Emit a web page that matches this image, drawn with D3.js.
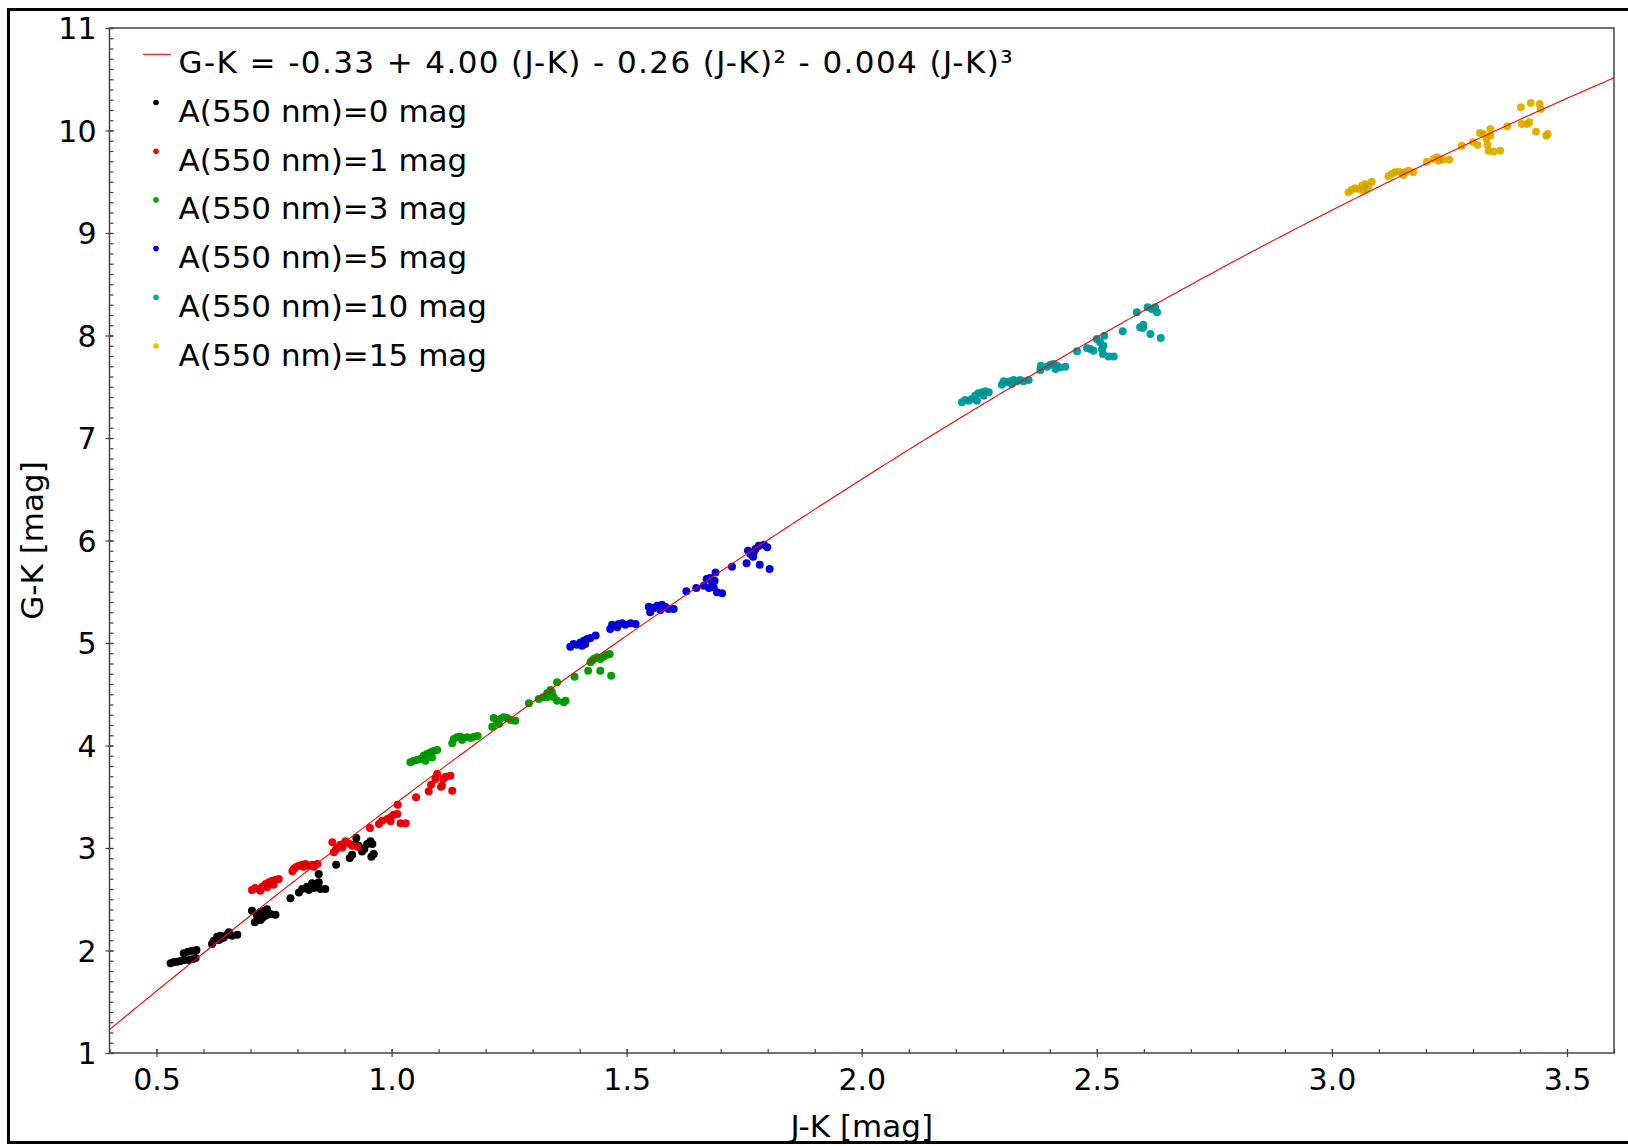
<!DOCTYPE html>
<html>
<head>
<meta charset="utf-8">
<script src="https://cdn.jsdelivr.net/npm/d3@7"></script>
<style>
  html, body { margin: 0; padding: 0; background: #fff; }
  svg { display: block; font-family: "DejaVu Sans", sans-serif; }
</style>
</head>
<body>
<svg id="chart" width="1628" height="1146"></svg>
<script>
// Colour-colour relation: G-K against J-K for several extinction levels
const fitCoefficients = [-0.33, 4.00, -0.26, -0.004];   // c0 + c1 x + c2 x^2 + c3 x^3
const fitLabel = "G-K = -0.33 + 4.00 (J-K) - 0.26 (J-K)\u00B2 - 0.004 (J-K)\u00B3";

const seriesNames = [
  "A(550 nm)=0 mag", "A(550 nm)=1 mag", "A(550 nm)=3 mag",
  "A(550 nm)=5 mag", "A(550 nm)=10 mag", "A(550 nm)=15 mag"
];
const seriesColors = ["#000000", "#ff0000", "#00aa00", "#0000ee", "#00aaaa", "#f0c000"];

const xTicks = [0.5, 1.0, 1.5, 2.0, 2.5, 3.0, 3.5];
const yTicks = [1, 2, 3, 4, 5, 6, 7, 8, 9, 10, 11];
const xDomain = [0.4, 3.6];
const yDomain = [1, 11];

// [J-K, G-K] pairs per extinction level
const ext0 = [
  [0.530,1.875],[0.537,1.888],[0.544,1.891],[0.551,1.897],[0.559,1.907],[0.569,1.907],[0.578,1.917],[0.583,1.927],
  [0.558,1.972],[0.567,1.989],[0.576,1.998],[0.585,2.005],
  [0.618,2.063],[0.622,2.096],[0.629,2.135],[0.633,2.102],[0.636,2.145],[0.640,2.122],[0.643,2.128],[0.650,2.154],
  [0.654,2.177],[0.661,2.145],[0.672,2.154],
  [0.703,2.389],[0.709,2.275],[0.714,2.340],[0.720,2.372],[0.721,2.298],[0.725,2.317],[0.730,2.389],[0.732,2.340],
  [0.735,2.402],[0.742,2.356],[0.753,2.350],
  [0.785,2.509],[0.803,2.567],[0.810,2.600],[0.820,2.623],[0.824,2.590],[0.831,2.655],[0.835,2.610],[0.838,2.642],
  [0.845,2.665],[0.845,2.746],[0.849,2.600],[0.859,2.600],
  [0.882,2.837],[0.911,2.902],[0.916,2.935],[0.923,3.039],[0.925,3.098],[0.930,3.023],[0.937,2.967],[0.942,2.990],
  [0.948,3.039],[0.955,3.065],[0.959,3.039],[0.957,2.915],[0.962,2.941]
];
const ext1 = [
  [0.703,2.590],[0.710,2.610],[0.718,2.600],[0.721,2.584],[0.725,2.623],[0.732,2.649],[0.735,2.616],[0.739,2.665],
  [0.746,2.681],[0.749,2.642],[0.753,2.688],[0.760,2.698],
  [0.789,2.772],[0.792,2.795],[0.796,2.811],[0.803,2.828],[0.810,2.837],[0.813,2.818],[0.817,2.844],[0.824,2.828],
  [0.831,2.837],[0.835,2.818],[0.842,2.844],
  [0.874,3.055],[0.877,2.958],[0.881,2.980],[0.884,3.006],[0.891,3.032],[0.895,3.006],[0.898,3.039],[0.902,3.065],
  [0.909,3.045],[0.916,3.023],[0.927,3.013],
  [0.954,3.195],[0.973,3.234],[0.980,3.267],[0.991,3.283],[0.998,3.299],[0.998,3.260],[1.005,3.325],[1.012,3.332],
  [1.013,3.423],[1.019,3.241],[1.030,3.241],
  [1.052,3.494],[1.079,3.553],[1.084,3.618],[1.093,3.673],[1.097,3.722],[1.105,3.598],[1.107,3.608],[1.110,3.673],
  [1.115,3.696],[1.125,3.706],[1.129,3.559]
];
const ext3 = [
  [1.040,3.836],[1.047,3.852],[1.054,3.859],[1.061,3.868],[1.068,3.901],[1.072,3.852],[1.075,3.917],[1.083,3.933],
  [1.086,3.884],[1.090,3.950],[1.097,3.956],
  [1.129,4.021],[1.132,4.063],[1.139,4.080],[1.146,4.086],[1.150,4.054],[1.153,4.073],[1.161,4.080],[1.168,4.073],
  [1.175,4.086],[1.183,4.093],
  [1.214,4.184],[1.217,4.268],[1.224,4.242],[1.228,4.210],[1.231,4.258],[1.238,4.275],[1.246,4.268],[1.253,4.249],
  [1.263,4.242],
  [1.292,4.411],[1.313,4.454],[1.322,4.470],[1.331,4.509],[1.331,4.470],[1.338,4.542],[1.341,4.519],[1.345,4.470],
  [1.352,4.616],[1.352,4.437],[1.366,4.421],[1.370,4.437],
  [1.389,4.671],[1.418,4.730],[1.423,4.811],[1.426,4.828],[1.430,4.844],[1.437,4.860],[1.444,4.844],[1.444,4.730],
  [1.451,4.867],[1.458,4.886],[1.464,4.893],[1.467,4.681]
];
const ext5 = [
  [1.380,4.964],[1.387,4.990],[1.394,4.984],[1.402,5.006],[1.405,4.974],[1.409,5.023],[1.412,4.990],[1.416,5.039],
  [1.423,5.049],[1.434,5.072],
  [1.465,5.137],[1.469,5.179],[1.476,5.169],[1.480,5.153],[1.483,5.185],[1.490,5.192],[1.497,5.179],[1.508,5.192],
  [1.519,5.185],
  [1.547,5.354],[1.550,5.299],[1.558,5.341],[1.565,5.364],[1.572,5.322],[1.575,5.374],[1.582,5.354],[1.589,5.332],
  [1.600,5.332],
  [1.627,5.504],[1.648,5.537],[1.664,5.559],[1.670,5.624],[1.675,5.537],[1.677,5.634],[1.682,5.576],[1.685,5.543],
  [1.687,5.608],[1.689,5.689],[1.692,5.494],[1.703,5.485],
  [1.724,5.745],[1.755,5.777],[1.758,5.901],[1.763,5.868],[1.769,5.842],[1.770,5.884],[1.774,5.917],[1.781,5.950],
  [1.783,5.764],[1.792,5.959],[1.799,5.933],[1.804,5.722]
];
const ext10 = [
  [2.213,7.348],[2.220,7.371],[2.227,7.364],[2.234,7.381],[2.241,7.413],[2.245,7.364],[2.248,7.436],[2.256,7.446],
  [2.259,7.413],[2.263,7.455],[2.270,7.446],
  [2.298,7.520],[2.302,7.553],[2.309,7.543],[2.316,7.553],[2.319,7.527],[2.323,7.566],[2.330,7.553],[2.337,7.566],
  [2.344,7.553],[2.355,7.566],
  [2.380,7.663],[2.381,7.706],[2.394,7.696],[2.401,7.715],[2.408,7.722],[2.412,7.673],[2.415,7.706],[2.422,7.689],
  [2.433,7.696],
  [2.458,7.846],[2.479,7.878],[2.486,7.868],[2.493,7.852],[2.500,7.966],[2.507,7.933],[2.511,7.868],[2.513,7.820],
  [2.514,7.901],[2.516,7.998],[2.525,7.794],[2.536,7.794],
  [2.555,8.041],[2.585,8.226],[2.592,8.080],[2.598,8.073],[2.599,8.106],[2.608,8.275],[2.614,8.015],[2.617,8.259],
  [2.624,8.275],[2.628,8.226],[2.636,7.976]
];
const ext15 = [
  [3.035,9.397],[3.042,9.423],[3.049,9.436],[3.057,9.429],[3.064,9.462],[3.067,9.413],[3.071,9.478],[3.074,9.429],
  [3.078,9.462],[3.085,9.501],
  [3.120,9.553],[3.127,9.576],[3.134,9.592],[3.142,9.598],[3.149,9.585],[3.152,9.566],[3.156,9.592],[3.163,9.608],
  [3.173,9.592],
  [3.202,9.696],[3.216,9.722],[3.223,9.738],[3.227,9.706],[3.230,9.728],[3.237,9.715],[3.250,9.715],
  [3.276,9.852],[3.300,9.885],[3.310,9.859],[3.315,9.976],[3.322,9.966],[3.329,9.917],[3.331,9.859],[3.333,9.803],
  [3.337,10.015],[3.337,9.950],[3.344,9.794],[3.358,9.803],
  [3.373,10.041],[3.402,10.226],[3.404,10.063],[3.415,10.063],[3.420,10.080],[3.423,10.268],[3.434,9.989],
  [3.442,10.259],[3.444,10.210],[3.456,9.950],[3.459,9.966]
];
const allSeries = [ext0, ext1, ext3, ext5, ext10, ext15];

// ---- layout ----
const W = 1628, H = 1146;
const plot = { left: 109.5, right: 1614, top: 28, bottom: 1053 };

const svg = d3.select("#chart");
svg.append("rect").attr("width", W).attr("height", H).attr("fill", "#fff");

const x = d3.scaleLinear().domain(xDomain).range([plot.left, plot.right]);
const y = d3.scaleLinear().domain(yDomain).range([plot.bottom, plot.top]);

// outer frame
svg.append("rect")
  .attr("x", 8.5).attr("y", 9.5).attr("width", 1640).attr("height", 1133)
  .attr("fill", "none").attr("stroke", "#000").attr("stroke-width", 3);

const clipId = "plot-clip";
svg.append("clipPath").attr("id", clipId).append("rect")
  .attr("x", plot.left).attr("y", plot.top)
  .attr("width", plot.right - plot.left).attr("height", plot.bottom - plot.top);

// fitted polynomial
const poly = v => fitCoefficients.reduce((s, c, i) => s + c * Math.pow(v, i), 0);
const curveXs = d3.range(xDomain[0], xDomain[1] + 1e-9, 0.01);
const line = d3.line().x(d => x(d)).y(d => y(poly(d)));

const marks = svg.append("g").attr("clip-path", `url(#${clipId})`);

// points
const pointR = 4.0;
allSeries.forEach((pts, i) => {
  marks.append("g").selectAll("circle").data(pts).join("circle")
    .attr("cx", d => x(d[0])).attr("cy", d => y(d[1]))
    .attr("r", pointR).attr("fill", seriesColors[i]);
});
// density shading: overlapping points darken
allSeries.forEach(pts => {
  marks.append("g").selectAll("circle").data(pts).join("circle")
    .attr("cx", d => x(d[0])).attr("cy", d => y(d[1]))
    .attr("r", pointR - 0.5).attr("fill", "#000").attr("fill-opacity", 0.07);
});

marks.append("path").datum(curveXs)
  .attr("d", line).attr("fill", "none")
  .attr("stroke", "#ff0000").attr("stroke-width", 1.1);

// ---- axes ----
const axisColor = "#444";
const fmtX = d3.format(".1f");

const xMinor = d3.axisBottom(x).tickValues(d3.range(4, 37).map(v => v / 10))
  .tickSize(-4).tickFormat("");
const xMajor = d3.axisBottom(x).tickValues(xTicks).tickSize(4).tickFormat(fmtX).tickPadding(12);
const yMinor = d3.axisLeft(y).tickValues(d3.range(10, 111).map(v => v / 10))
  .tickSize(-4).tickFormat("");
const yMajor = d3.axisLeft(y).tickValues(yTicks).tickSize(4).tickFormat(d3.format("d")).tickPadding(9);

function styleAxis(g) {
  g.select(".domain").remove();
  g.selectAll("line").attr("stroke", axisColor).attr("stroke-width", 1.2);
  g.selectAll("text").attr("fill", "#000").attr("font-size", 30)
    .attr("font-family", "'DejaVu Sans', sans-serif");
}

svg.append("g").attr("transform", `translate(0,${plot.bottom})`).call(xMinor).call(styleAxis);
const gx = svg.append("g").attr("transform", `translate(0,${plot.bottom})`).call(xMajor).call(styleAxis);
gx.selectAll(".tick line").attr("y1", -4);
svg.append("g").attr("transform", `translate(${plot.left},0)`).call(yMinor).call(styleAxis);
const gy = svg.append("g").attr("transform", `translate(${plot.left},0)`).call(yMajor).call(styleAxis);
gy.selectAll(".tick line").attr("x1", 4).attr("x2", -4);
gy.selectAll("text").attr("dy", "0.36em");

// plot frame
svg.append("rect")
  .attr("x", plot.left).attr("y", plot.top)
  .attr("width", plot.right - plot.left).attr("height", plot.bottom - plot.top)
  .attr("fill", "none").attr("stroke", axisColor).attr("stroke-width", 1.5);

// axis titles
svg.append("text")
  .attr("x", (plot.left + plot.right) / 2).attr("y", 1137)
  .attr("text-anchor", "middle").attr("font-size", 31).text("J-K [mag]");
svg.append("text")
  .attr("transform", `translate(43,${(plot.top + plot.bottom) / 2}) rotate(-90)`)
  .attr("text-anchor", "middle").attr("font-size", 31).text("G-K [mag]");

// ---- legend ----
const legend = svg.append("g").attr("font-size", 31);
const legendX = 143, textX = 178.6, firstBase = 73.3, rowStep = 48.7;

legend.append("line")
  .attr("x1", legendX).attr("x2", legendX + 28)
  .attr("y1", firstBase - 19).attr("y2", firstBase - 19)
  .attr("stroke", "#ff0000").attr("stroke-width", 1.1);
legend.append("text").attr("x", textX).attr("y", firstBase)
  .attr("textLength", 834).attr("lengthAdjust", "spacing")
  .text(fitLabel);

seriesNames.forEach((name, i) => {
  const base = firstBase + rowStep * (i + 1);
  legend.append("circle").attr("cx", 156).attr("cy", base - 19.5)
    .attr("r", 2.8).attr("fill", seriesColors[i]);
  legend.append("text").attr("x", textX).attr("y", base).text(name);
});
</script>
</body>
</html>
